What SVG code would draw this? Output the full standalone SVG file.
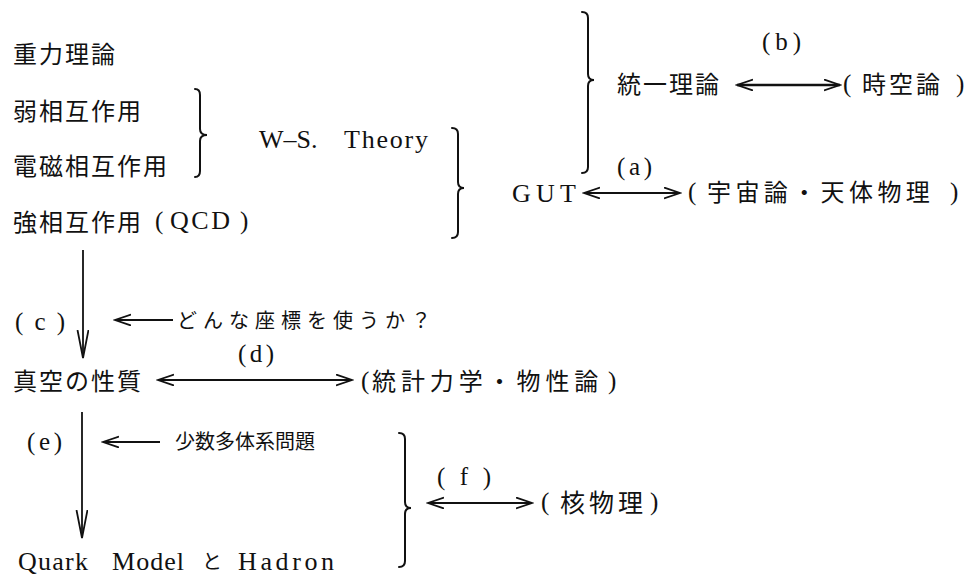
<svg xmlns="http://www.w3.org/2000/svg" width="971" height="577" viewBox="0 0 971 577">
<style>
.cj{font-family:"Noto Sans CJK JP","Noto Sans CJK SC",sans-serif;font-size:24px;fill:#111;letter-spacing:2px}
.sm{font-size:20px;letter-spacing:0px}
.se{font-size:26px;fill:#111}
.lb{font-size:25px;fill:#111}
.pa{font-size:25px;fill:#111}
.ln{stroke:#111;stroke-width:1.8;fill:none}
.br{stroke:#111;stroke-width:2;fill:none;stroke-linecap:round}
</style>
<defs>
<marker id="ah" markerUnits="userSpaceOnUse" markerWidth="18" markerHeight="14" refX="16" refY="6" orient="auto-start-reverse" viewBox="0 0 18 14">
<path d="M0,0.5 L16,6 L0,11.5" fill="none" stroke="#111" stroke-width="1.8"/>
</marker>
<marker id="av" markerUnits="userSpaceOnUse" markerWidth="30" markerHeight="14" refX="28" refY="6" orient="auto" viewBox="0 0 30 14">
<path d="M0,0.5 L28,6 L0,11.5" fill="none" stroke="#111" stroke-width="1.8"/>
</marker>
</defs>
<rect width="971" height="577" fill="#fff"/>

<g id="gravity"><text class="cj" x="13" y="63">重力理論</text></g>
<g id="weak"><text class="cj" x="13" y="120">弱相互作用</text></g>
<g id="em"><text class="cj" x="13" y="175">電磁相互作用</text></g>
<g id="strong" font-family="Liberation Serif, Times New Roman, serif">
<text class="cj" x="13" y="231">強相互作用</text>
<text class="pa" x="155" y="229">(</text>
<text class="se" x="170" y="229" textLength="60" lengthAdjust="spacing">QCD</text>
<text class="pa" x="240" y="229">)</text>
</g>
<g id="ws" font-family="Liberation Serif, Times New Roman, serif"><text class="se" x="259" y="148">W–S.</text><text class="se" x="344" y="148" textLength="84" lengthAdjust="spacing">Theory</text></g>
<g id="unified"><text class="cj" x="617" y="93">統一理論</text></g>
<g id="spacetime" font-family="Liberation Serif, Times New Roman, serif">
<text class="pa" x="843" y="92">(</text>
<text class="cj" x="862" y="93" style="letter-spacing:3px">時空論</text>
<text class="pa" x="956" y="92">)</text>
</g>
<g id="gut" font-family="Liberation Serif, Times New Roman, serif"><text class="se" x="512" y="202" textLength="64" lengthAdjust="spacing">GUT</text></g>
<g id="cosmology" font-family="Liberation Serif, Times New Roman, serif">
<text class="pa" x="688" y="200">(</text>
<text class="cj" x="707" y="201" style="letter-spacing:4.4px">宇宙論・天体物理</text>
<text class="pa" x="950" y="200">)</text>
</g>
<g id="vacuum"><text class="cj" x="13" y="390">真空の性質</text></g>
<g id="statmech" font-family="Liberation Serif, Times New Roman, serif">
<text class="pa" x="361" y="389">(</text>
<text class="cj" x="372" y="390" style="letter-spacing:4.9px">統計力学・物性論</text>
<text class="pa" x="608" y="389">)</text>
</g>
<g id="coords"><text class="cj sm" x="177" y="328" style="letter-spacing:6px">どんな座標を使うか？</text></g>
<g id="fewbody"><text class="cj sm" x="175" y="449">少数多体系問題</text></g>
<g id="quark" font-family="Liberation Serif, Times New Roman, serif">
<text class="se" x="18" y="570" textLength="70" lengthAdjust="spacing">Quark</text>
<text class="se" x="112" y="570" textLength="72" lengthAdjust="spacing">Model</text>
<text class="cj sm" x="202" y="569">と</text>
<text class="se" x="238" y="570" textLength="96" lengthAdjust="spacing">Hadron</text>
</g>
<g id="nuclear" font-family="Liberation Serif, Times New Roman, serif">
<text class="pa" x="541" y="510">(</text>
<text class="cj" x="560" y="512" style="letter-spacing:4px;font-size:25px">核物理</text>
<text class="pa" x="650" y="510">)</text>
</g>

<g id="labels" font-family="Liberation Serif, Times New Roman, serif">
<text class="lb" x="617" y="175" textLength="35" lengthAdjust="spacing">(a)</text>
<text class="lb" x="762" y="50" textLength="39" lengthAdjust="spacing">(b)</text>
<text class="lb" x="15" y="330" textLength="50" lengthAdjust="spacing">( c )</text>
<text class="lb" x="238" y="362" textLength="36" lengthAdjust="spacing">(d)</text>
<text class="lb" x="27" y="450" textLength="35" lengthAdjust="spacing">(e)</text>
<text class="lb" x="437" y="485" textLength="54" lengthAdjust="spacing">( f )</text>
</g>

<g id="connectors">
<path class="br" d="M195,89 Q200,89 200,95 L200,129 Q200,135 207,135 Q200,135 200,141 L200,171 Q200,177 195,177"/>
<path class="br" d="M452,128 Q458,128 458,134 L458,182 Q458,188 464,188 Q458,188 458,194 L458,232 Q458,238 452,238"/>
<path class="br" d="M582,12 Q588,12 588,18 L588,74 Q588,80 594,80 Q588,80 588,86 L588,167 Q588,173 582,173"/>
<path class="br" d="M399,433 Q405,433 405,439 L405,502 Q405,508 411,508 Q405,508 405,514 L405,561 Q405,567 399,567"/>
<line class="ln" x1="737" y1="85" x2="840" y2="85" marker-start="url(#ah)" marker-end="url(#ah)" style="stroke-width:2.4"/>
<line class="ln" x1="584" y1="193" x2="680" y2="193" marker-start="url(#ah)" marker-end="url(#ah)"/>
<line class="ln" x1="158" y1="380" x2="352" y2="380" marker-start="url(#ah)" marker-end="url(#ah)"/>
<line class="ln" x1="428" y1="503" x2="532" y2="503" marker-start="url(#ah)" marker-end="url(#ah)"/>
<line class="ln" x1="173" y1="320" x2="115" y2="320" marker-end="url(#ah)"/>
<line class="ln" x1="160" y1="442" x2="103" y2="442" marker-end="url(#ah)"/>
<line class="ln" x1="83" y1="250" x2="83" y2="358" marker-end="url(#av)"/>
<line class="ln" x1="82" y1="412" x2="82" y2="538" marker-end="url(#av)"/>
</g>
</svg>
